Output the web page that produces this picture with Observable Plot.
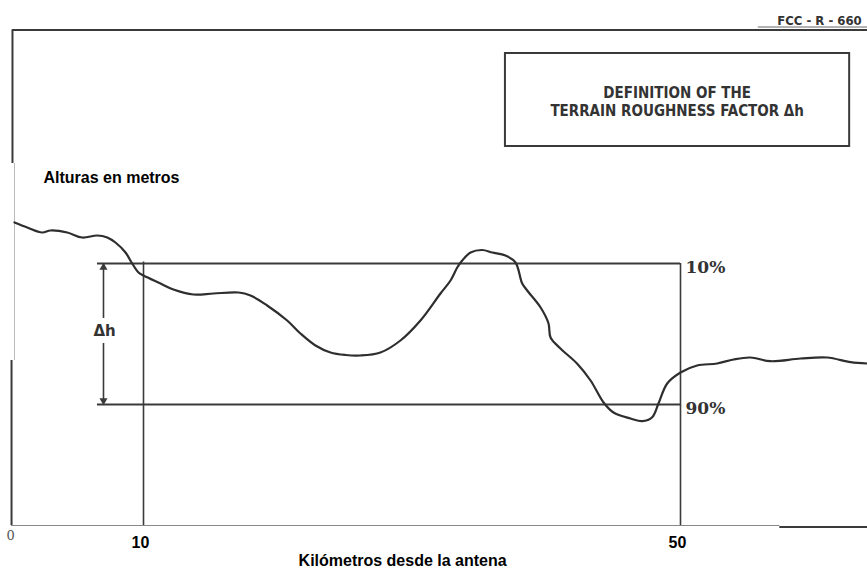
<!DOCTYPE html>
<html>
<head>
<meta charset="utf-8">
<script src="https://cdn.jsdelivr.net/npm/d3@7"></script>
<script src="https://cdn.jsdelivr.net/npm/@observablehq/plot@0.6"></script>
<style>
  html, body { margin: 0; padding: 0; background: #fff; }
  #chart svg { display: block; }
</style>
</head>
<body>
<div id="chart"></div>
<script>
// Terrain profile: distance from antenna (km) and height (m, relative)
const km = [0.39, 1.34, 2.45, 3.07, 4.32, 5.43, 6.55, 7.30, 7.91, 8.66, 9.16, 9.63, 10.00, 11.27, 12.23, 13.72, 15.21, 17.08, 17.97, 19.21, 20.70, 21.69, 22.81, 23.93, 25.05, 26.16, 27.65, 29.14, 30.63, 32.12, 32.87, 33.37, 33.74, 34.36, 35.23, 35.99, 36.96, 37.71, 38.21, 38.58, 39.58, 40.17, 40.32, 41.06, 42.29, 43.30, 44.27, 45.01, 46.28, 47.15, 47.89, 48.36, 49.01, 50.00, 51.24, 52.73, 53.95, 55.21, 56.70, 58.94, 60.93, 62.67, 63.93];
const height = [303, 298, 293, 295, 293, 288, 290, 288, 283, 273, 262, 253, 250, 242, 236, 231, 232, 233, 230, 220, 205, 192, 180, 173, 170.5, 170, 173, 185, 205, 232, 245, 258, 265, 273, 275.5, 273, 270, 263, 242, 235, 218, 202, 188, 177, 162, 145, 123, 113, 107, 104.3, 108.3, 122, 142, 153, 160, 162, 166, 168, 164.3, 167, 168, 163.3, 162];

// Analysis section and levels
const sectionStart = 10;   // km
const sectionEnd = 50;     // km
const level10 = 262;       // height exceeded by 10% of the profile
const level90 = 121;       // height exceeded by 90% of the profile
const levelLabels = ["10%", "90%"];
const xTickValues = [10, 50];
const xTickLabels = ["10", "50"];
const xOriginLabel = "0";

const titleLines = ["DEFINITION OF THE", "TERRAIN ROUGHNESS FACTOR Δh"];
const docRef = "FCC - R - 660";
const yLabel = "Alturas en metros";
const xLabel = "Kilómetros desde la antena";

const profile = km.map((k, i) => ({km: k, h: height[i]}));
const ink = "#3a3a3a";
const scanFont = "'DejaVu Sans Condensed', 'Liberation Sans Narrow', sans-serif";
const labelFont = "'Liberation Sans', Arial, sans-serif";

const plot = Plot.plot({
  width: 867,
  height: 569,
  margin: 0,
  style: {background: "#fff", overflow: "visible"},
  x: {type: "linear", domain: [10, 50], range: [143, 680], axis: null},
  y: {type: "linear", domain: [0, 500], range: [525, 25], axis: null},
  marks: [
    // outer frame of the scanned sheet
    Plot.ruleY([495.5], {x1: 0.24, x2: 64, stroke: ink, strokeWidth: 2}),
    Plot.ruleY([498.5], {x1: 55.8, x2: 64, stroke: "#666", strokeWidth: 1}),
    Plot.ruleX([0.24], {y1: 495.5, y2: 362, stroke: ink, strokeWidth: 2}),
    Plot.ruleX([0.39], {y1: 362, y2: 165, stroke: "#bbb", strokeWidth: 1}),
    Plot.ruleX([0.17], {y1: 165, y2: 0, stroke: ink, strokeWidth: 2}),
    Plot.ruleY([0], {x1: 0.17, x2: 57.4, stroke: "#888", strokeWidth: 1}),
    Plot.ruleY([-1.5], {x1: 57.4, x2: 64, stroke: ink, strokeWidth: 2.2}),

    // definition box
    Plot.rect([{x1: 36.96, x2: 62.6, y1: 379, y2: 472}], {x1: "x1", x2: "x2", y1: "y1", y2: "y2", fill: "none", stroke: ink, strokeWidth: 2}),
    Plot.text(titleLines, {x: 49.75, y: [432, 414], text: d => d, fontFamily: scanFont, fontSize: 15, fontWeight: "bold", fill: "#333"}),
    Plot.text([docRef], {x: 57.2, y: 505, text: d => d, textAnchor: "start", fontFamily: scanFont, fontSize: 13, fontWeight: "bold", fill: "#333"}),

    // 10% / 90% levels over the 10–50 km section
    Plot.ruleY([level10, level90], {x1: 6.57, x2: sectionEnd, stroke: ink, strokeWidth: 2}),
    Plot.ruleX([sectionStart], {y1: level10 + 1.5, y2: 0, stroke: ink, strokeWidth: 1.6}),
    Plot.ruleX([sectionEnd], {y1: level10, y2: 0, stroke: ink, strokeWidth: 1.6}),
    Plot.text(levelLabels, {x: sectionEnd, y: [level10, level90], text: d => d, dx: 5, dy: 4, textAnchor: "start", fontFamily: "'DejaVu Serif', serif", fontSize: 17, fontWeight: "bold", fill: "#333"}),

    // Δh dimension arrow
    Plot.ruleX([7.02], {y1: level10 - 1, y2: 207, stroke: ink, strokeWidth: 1.6}),
    Plot.ruleX([7.02], {y1: 182, y2: level90 + 1, stroke: ink, strokeWidth: 1.6}),
    Plot.dot([level10 - 4], {x: 7.02, y: d => d, symbol: "triangle", r: 3, fill: ink, stroke: "none"}),
    Plot.dot([level90 + 4], {x: 7.02, y: d => d, symbol: "triangle", rotate: 180, r: 3, fill: ink, stroke: "none"}),
    Plot.text(["Δh"], {x: 7.1, y: 194, text: d => d, fontFamily: "'DejaVu Sans', sans-serif", fontSize: 15, fontWeight: "bold", fill: "#333"}),

    // terrain profile
    Plot.line(profile, {x: "km", y: "h", curve: "catmull-rom", stroke: "#2e2e2e", strokeWidth: 2.2}),

    // axis texts
    Plot.text([xOriginLabel], {x: 0.1, y: -10, text: d => d, fontFamily: "'DejaVu Serif', serif", fontSize: 13, fill: "#555"}),
    Plot.text(xTickValues, {x: d => d, y: -17, dx: -3, text: (d, i) => xTickLabels[i], fontFamily: labelFont, fontSize: 16, fontWeight: "bold", fill: "#000"}),
    Plot.text([xLabel], {x: 29.3, y: -35, text: d => d, fontFamily: labelFont, fontSize: 16, fontWeight: "bold", fill: "#000"}),
    Plot.text([yLabel], {x: 2.55, y: 348, text: d => d, textAnchor: "start", fontFamily: labelFont, fontSize: 16, fontWeight: "bold", fill: "#000"})
  ]
});
document.getElementById("chart").appendChild(plot);
</script>
</body>
</html>
